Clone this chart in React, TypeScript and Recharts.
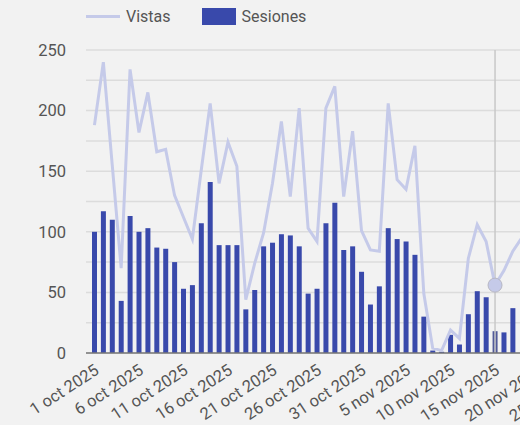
import { Bar, CartesianGrid, Cell, ComposedChart, Line, ReferenceLine, XAxis, YAxis } from "recharts";

const days = [
  "1 oct 2025", "2 oct 2025", "3 oct 2025", "4 oct 2025", "5 oct 2025",
  "6 oct 2025", "7 oct 2025", "8 oct 2025", "9 oct 2025", "10 oct 2025",
  "11 oct 2025", "12 oct 2025", "13 oct 2025", "14 oct 2025", "15 oct 2025",
  "16 oct 2025", "17 oct 2025", "18 oct 2025", "19 oct 2025", "20 oct 2025",
  "21 oct 2025", "22 oct 2025", "23 oct 2025", "24 oct 2025", "25 oct 2025",
  "26 oct 2025", "27 oct 2025", "28 oct 2025", "29 oct 2025", "30 oct 2025",
  "31 oct 2025", "1 nov 2025", "2 nov 2025", "3 nov 2025", "4 nov 2025",
  "5 nov 2025", "6 nov 2025", "7 nov 2025", "8 nov 2025", "9 nov 2025",
  "10 nov 2025", "11 nov 2025", "12 nov 2025", "13 nov 2025", "14 nov 2025",
  "15 nov 2025", "16 nov 2025", "17 nov 2025", "18 nov 2025", "19 nov 2025",
  "20 nov 2025", "21 nov 2025", "22 nov 2025", "23 nov 2025", "24 nov 2025",
  "25 nov 2025", "26 nov 2025", "27 nov 2025", "28 nov 2025", "29 nov 2025",
  "30 nov 2025",
];

// vistas (line)
const vistas = [
  188, 240, 155, 70, 234, 182, 215, 166, 168, 130,
  112, 94, 151, 206, 140, 174, 154, 44, 74, 99,
  140, 191, 129, 202, 103, 92, 202, 220, 129, 183,
  101, 85, 84, 206, 143, 135, 171, 49, 4, 2,
  19, 12, 78, 106, 92, 56, 68, 84, 95,
];

// sesiones (bars)
const sesiones = [
  100, 117, 110, 43, 113, 100, 103, 87, 86, 75,
  53, 56, 107, 141, 89, 89, 89, 36, 52, 88,
  91, 98, 97, 88, 49, 53, 107, 124, 85, 88,
  67, 40, 55, 103, 94, 92, 81, 30, 2, 1,
  15, 7, 32, 51, 46, 18, 17, 37,
];

const yTicks = [0, 25, 50, 75, 100, 125, 150, 175, 200, 225, 250];
const hoverDay = "15 nov 2025";

const data = days.map((day, i) => ({
  day,
  vistas: vistas[i] ?? null,
  sesiones: sesiones[i] ?? null,
}));

const LINE_COLOR = "#c5cae9";
const BAR_COLOR = "#3949ab";
const FONT = "Roboto, sans-serif";

const DateTick = ({ x, y, payload }: any) => (
  <g transform={`translate(${x - 1},${y + 2})`}>
    <text
      x={0}
      y={0}
      dy={12}
      textAnchor="end"
      transform="rotate(-33)"
      fill="#555"
      fontSize={16.5}
      fontFamily={FONT}
    >
      {payload.value}
    </text>
  </g>
);

const VistasDot = (props: any) => {
  const { cx, cy, payload } = props;
  if (payload.day !== hoverDay) return <g key={payload.day} />;
  return (
    <circle key={payload.day} cx={cx} cy={cy} r={7} fill={LINE_COLOR} stroke="#b8b8c4" strokeWidth={1} />
  );
};

export default function App() {
  return (
    <div
      style={{
        position: "absolute",
        left: 0,
        top: 0,
        width: 520,
        height: 425,
        overflow: "hidden",
        background: "#f2f2f2",
        fontFamily: FONT,
      }}
    >
      <div
        style={{
          position: "absolute",
          left: 86,
          top: 7,
          display: "flex",
          alignItems: "center",
          fontSize: 16,
          color: "#555",
        }}
      >
        <span style={{ width: 34, height: 3, background: LINE_COLOR, marginRight: 6 }} />
        <span style={{ marginRight: 31 }}>Vistas</span>
        <span style={{ width: 34, height: 17, background: BAR_COLOR, marginRight: 6 }} />
        <span>Sesiones</span>
      </div>
      <ComposedChart
        width={657}
        height={425}
        data={data}
        margin={{ top: 50, right: 20, bottom: 0, left: 0 }}
      >
        <CartesianGrid vertical={false} stroke="#dcdcdc" strokeWidth={1.5} />
        <XAxis
          dataKey="day"
          interval={4}
          height={72}
          padding={{ left: 4, right: 4 }}
          tickLine={false}
          axisLine={{ stroke: "#777", strokeWidth: 1.5 }}
          tick={<DateTick />}
        />
        <YAxis
          domain={[0, 250]}
          ticks={yTicks}
          width={86}
          tickLine={false}
          axisLine={false}
          tickSize={0}
          tickMargin={20}
          tick={{ fill: "#555", fontSize: 16.5, fontFamily: FONT }}
          tickFormatter={(v: number) => (v % 50 === 0 ? String(v) : "")}
        />
        <Bar dataKey="sesiones" fill={BAR_COLOR} barSize={5} isAnimationActive={false}>
          {data.map((d) => (
            <Cell key={d.day} fill={d.day === hoverDay ? "#525a99" : BAR_COLOR} />
          ))}
        </Bar>
        <ReferenceLine x={hoverDay} stroke="#c8c8c8" strokeWidth={1.5} />
        <Line
          type="linear"
          dataKey="vistas"
          stroke={LINE_COLOR}
          strokeWidth={3}
          dot={<VistasDot />}
          activeDot={false}
          isAnimationActive={false}
        />
      </ComposedChart>
    </div>
  );
}
